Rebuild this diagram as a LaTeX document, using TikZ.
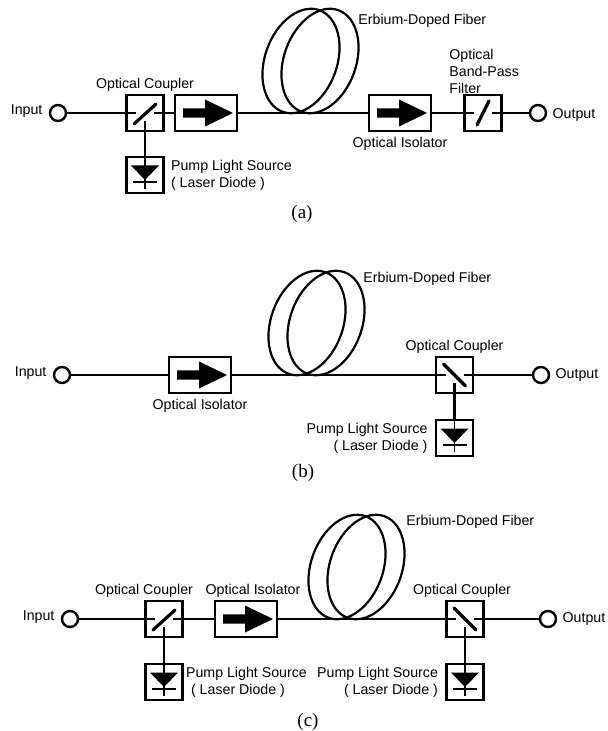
\documentclass[tikz,border=0pt]{standalone}
\usepackage{fontspec}
\setmainfont{Liberation Serif}
\newfontfamily\labelfont{Liberation Sans}
\usetikzlibrary{positioning}
\tikzset{
  optline/.style={line width=.9pt},
  pumpline/.style={line width=1.25pt},
  partbox/.style={draw, line width=1.15pt, minimum width=18.5pt, minimum height=18pt, inner sep=0pt},
  port/.style={draw, circle, line width=1.2pt, minimum size=8pt, inner sep=0pt},
  partlabel/.style={font=\labelfont\fontsize{7.1}{8.6}\selectfont, inner sep=0pt},
  caption/.style={font=\fontsize{9.5}{10}\selectfont, inner sep=0pt},
  isolator/.style={partbox, minimum width=31pt, path picture={
    \fill[shift={(path picture bounding box.center)}] (-23,-4.7) -- (-1,-4.7) -- (-1,-13.5) -- (27,0) -- (-1,13.5) -- (-1,4.7) -- (-23,4.7) -- cycle;}},
  cplfwd/.style={partbox, path picture={
    \draw[optline, shift={(path picture bounding box.center)}] (-19,0) -- (-9,0) (9,0) -- (19,0);
    \draw[pumpline, shift={(path picture bounding box.center)}] (0,8) -- (0,19);
    \draw[line width=1.6pt, line cap=round, shift={(path picture bounding box.center)}] (-11,11) -- (11,-9);}},
  cplback/.style={partbox, path picture={
    \draw[optline, shift={(path picture bounding box.center)}] (-19,0) -- (-9,0) (9,0) -- (19,0);
    \draw[pumpline, shift={(path picture bounding box.center)}] (0,8) -- (0,19);
    \draw[line width=1.6pt, line cap=round, shift={(path picture bounding box.center)}] (-11,-11) -- (11,11);}},
  bandpass/.style={partbox, path picture={
    \draw[optline, shift={(path picture bounding box.center)}] (-19,0) -- (-9,0) (9,0) -- (19,0);
    \draw[line width=1.6pt, line cap=round, shift={(path picture bounding box.center)}] (-6,12) -- (6,-12);}},
  diode/.style={partbox, path picture={
    \fill[shift={(path picture bounding box.center)}] (-14,-9.5) -- (14,-9.5) -- (0,5) -- cycle;
    \draw[optline, shift={(path picture bounding box.center)}] (0,-19) -- (0,14) (-12,7) -- (12,7);}},
  fiberloop/.pic={
    \draw[line width=1.1pt] (0,0) circle [x radius=36, y radius=54, rotate=-20];
    \draw[line width=1.1pt] (19,0) circle [x radius=36, y radius=54, rotate=-20];}
}
\begin{document}
\begin{tikzpicture}[x=.5pt, y=-.5pt]
\useasboundingbox (0,0) rectangle (608,731);
% (a)
\node[port] (inA) at (58,113) {};
\node[cplfwd] (cplA) at (145,113) {};
\node[isolator] (isoA) at (206,113) {};
\pic at (301,61) {fiberloop};
\node[isolator] (isoB) at (400,113) {};
\node[bandpass] (bpA) at (483,113) {};
\node[port] (outA) at (538,113) {};
\node[diode] (ldA) at (145,175) {};
\draw[optline] (inA) -- (cplA);
\draw[optline] (cplA) -- (isoA);
\draw[optline] (isoA) -- (isoB);
\draw[optline] (isoB) -- (bpA);
\draw[optline] (bpA) -- (outA);
\draw[pumpline] (cplA) -- (ldA);
\node[partlabel, left=3pt of inA, yshift=1pt] (inlA) {Input};
\node[partlabel, right=2.5pt of outA, yshift=-1pt] (outlA) {Output};
\node[partlabel, above=1.2pt of cplA] (cpllA) {Optical Coupler};
\node[partlabel, below=2.5pt of isoB] (isolA) {Optical Isolator};
\node[partlabel, align=left, anchor=south west] (bplA) at (449,94) {Optical\\Band-Pass\\Filter};
\node[partlabel, anchor=west] (fiblA) at (358,21) {Erbium-Doped Fiber};
\node[partlabel, align=left, right=3pt of ldA] (ldlA) {Pump Light Source\\( Laser Diode )};
\node[caption] (capA) at (302,214) {(a)};
% (b)
\node[port] (inC) at (62,375) {};
\node[isolator] (isoC) at (200,375) {};
\pic at (307,323) {fiberloop};
\node[cplback] (cplC) at (454.5,375) {};
\node[port] (outC) at (541,375) {};
\node[diode] (ldC) at (454.5,438) {};
\draw[optline] (inC) -- (isoC);
\draw[optline] (isoC) -- (cplC);
\draw[optline] (cplC) -- (outC);
\draw[pumpline] (cplC) -- (ldC);
\node[partlabel, left=3pt of inC, yshift=1pt] (inlC) {Input};
\node[partlabel, right=2.5pt of outC] (outlC) {Output};
\node[partlabel, below=2.5pt of isoC] (isolC) {Optical Isolator};
\node[partlabel, above=1.2pt of cplC] (cpllC) {Optical Coupler};
\node[partlabel, anchor=west] (fiblC) at (363,279) {Erbium-Doped Fiber};
\node[partlabel, align=right, left=3.5pt of ldC] (ldlC) {Pump Light Source\\( Laser Diode )};
\node[caption] (capC) at (303,473) {(b)};
% (c)
\node[port] (inE) at (70,619) {};
\node[cplfwd] (cplE) at (164,619) {};
\node[isolator] (isoE) at (246,619) {};
\pic at (347,567) {fiberloop};
\node[cplback] (cplF) at (465,619) {};
\node[port] (outE) at (548,619) {};
\node[diode] (ldE) at (164,682) {};
\node[diode] (ldF) at (465,682) {};
\draw[optline] (inE) -- (cplE);
\draw[optline] (cplE) -- (isoE);
\draw[optline] (isoE) -- (cplF);
\draw[optline] (cplF) -- (outE);
\draw[pumpline] (cplE) -- (ldE);
\draw[pumpline] (cplF) -- (ldF);
\node[partlabel, left=3pt of inE, yshift=1pt] (inlE) {Input};
\node[partlabel, right=2.5pt of outE] (outlE) {Output};
\node[partlabel, above=1.2pt of cplE, xshift=-10pt] (cpllE) {Optical Coupler};
\node[partlabel, above=1.2pt of isoE, xshift=3.5pt] (isolE) {Optical Isolator};
\node[partlabel, above=1.2pt of cplF, xshift=-1.5pt] (cpllF) {Optical Coupler};
\node[partlabel, anchor=west] (fiblE) at (406,522) {Erbium-Doped Fiber};
\node[partlabel, align=left, right=1pt of ldE] (ldlE) {Pump Light Source\\\hspace*{2.5pt}( Laser Diode )};
\node[partlabel, align=right, left=3.5pt of ldF] (ldlF) {Pump Light Source\\( Laser Diode )};
\node[caption] (capE) at (308,722) {(c)};
\end{tikzpicture}
\end{document}
